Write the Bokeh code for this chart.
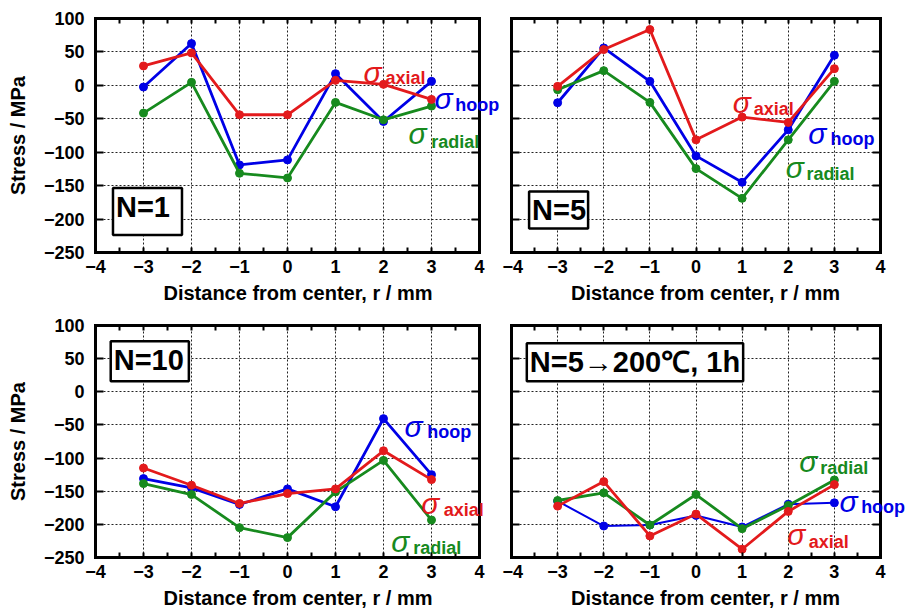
from bokeh.plotting import figure
from bokeh.models import Label, FixedTicker, LinearAxis, BoxAnnotation, Range1d, Grid
from bokeh.layouts import gridplot
from bokeh.embed import file_html
from bokeh.resources import INLINE

# ---------------- data ----------------
r_mm = [-3, -2, -1, 0, 1, 2, 3]

n1_axial = [29, 48.5, -44, -44, 7.5, 1.5, -21]
n1_hoop = [-2.5, 62.5, -119, -111.5, 17.5, -54, 6]
n1_radial = [-41.5, 4.5, -131.5, -138.5, -25.5, -51.5, -31]

n5_axial = [-1.5, 53.5, 83.5, -81.5, -47.5, -55.5, 25]
n5_hoop = [-26, 56, 6, -105.5, -145, -66.5, 45]
n5_radial = [-6.5, 22, -25.5, -124.5, -169, -81.5, 6]

n10_axial = [-115, -141, -168.5, -153.5, -146.5, -89, -132.5]
n10_hoop = [-131, -145, -170, -146.5, -173.5, -40.5, -125]
n10_radial = [-138.5, -155, -205, -220, -151, -103.5, -193.5]

ht_axial = [-172.5, -135.5, -217.5, -184.5, -237.5, -180.5, -140]
ht_hoop = [-165, -202.5, -201, -186.5, -204, -169.5, -167.5]
ht_radial = [-164, -152.5, -201, -155, -206.5, -171.5, -133]

panel_titles = ["N=1", "N=5", "N=10", "N=5\u2192200\u2103, 1h"]
x_ticks = [-4, -3, -2, -1, 0, 1, 2, 3, 4]
x_minor = [-3.5, -2.5, -1.5, -0.5, 0.5, 1.5, 2.5, 3.5]
y_ticks = [-250, -200, -150, -100, -50, 0, 50, 100]
x_title = "Distance from center, r / mm"
y_title = "Stress / MPa"

RED = "#e31a1c"
BLUE = "#0000e6"
GREEN = "#178a1e"

# annotation placement (sigma anchor, subscript anchor) in data units
sigma_labels = [
    [("axial", RED, (1.583, 19.2), (2.042, 11.7)),
     ("hoop", BLUE, (3.0625, -20.1), (3.4925, -30.1)),
     ("radial", GREEN, (2.521, -72.5), (2.993, -85.0))],
    [("axial", RED, (0.798, -25.2), (1.25, -35.1)),
     ("hoop", BLUE, (2.431, -72.5), (2.917, -80.0)),
     ("radial", GREEN, (1.944, -122.4), (2.396, -133.3))],
    [("hoop", BLUE, (2.4375, -51.7), (2.91, -60.3)),
     ("axial", RED, (2.785, -167.9), (3.257, -178.9)),
     ("radial", GREEN, (2.16, -225.5), (2.619, -235.4))],
    [("radial", GREEN, (2.236, -105.3), (2.694, -114.4)),
     ("hoop", BLUE, (3.111, -165.4), (3.58, -173.9)),
     ("axial", RED, (1.979, -215.5), (2.444, -226.4))],
]
box_pos = [(-2.917, -188.5, 12), (-2.979, -186.3, 2), (-2.869, 45.9, 5), (-1.323, 44.4, 3)]

FONT = "Liberation Sans"

# layout metrics (pixels) and frame extents beyond the [-4, 4] box (data units)
L_BL, L_FW, L_BR, L_LO, L_HI = 95, 405, 2, -4.0, 4.4375
R_BL, R_FW, R_BR, R_LO, R_HI = 2, 402, 1, -4.1518, 4.5637
T_BT, T_FH, T_BB = 18, 234, 56
B_BT, B_FH, B_BB = 17, 232, 57


def style_axis(ax, major_len, minor_len, show_labels, title=None,
               label_standoff=0, title_standoff=0):
    ax.axis_line_color = "black"
    ax.axis_line_width = 3
    ax.axis_line_cap = "square"
    ax.major_tick_in = major_len
    ax.major_tick_out = 0
    ax.minor_tick_in = minor_len
    ax.minor_tick_out = 0
    ax.major_tick_line_width = 2
    ax.minor_tick_line_width = 2
    ax.major_tick_line_color = "black"
    ax.minor_tick_line_color = "black"
    if show_labels:
        ax.major_label_text_font = FONT
        ax.major_label_text_font_style = "bold"
        ax.major_label_text_font_size = "18px"
        ax.major_label_text_color = "black"
        ax.major_label_standoff = label_standoff
    else:
        ax.major_label_text_font_size = "1px"
        ax.major_label_text_color = None
        ax.major_label_standoff = 0
    if title:
        ax.axis_label = title
        ax.axis_label_text_font = FONT
        ax.axis_label_text_font_style = "bold"
        ax.axis_label_text_font_size = "20px"
        ax.axis_label_text_color = "black"
        ax.axis_label_standoff = title_standoff


def make_panel(idx, axial, hoop, radial, left_col, bt, fh, bb):
    if left_col:
        bl, fw, br, lo, hi = L_BL, L_FW, L_BR, L_LO, L_HI
    else:
        bl, fw, br, lo, hi = R_BL, R_FW, R_BR, R_LO, R_HI
    p = figure(width=bl + fw + br, height=bt + fh + bb,
               x_range=Range1d(lo, hi), y_range=Range1d(-250, 100),
               output_backend="svg", toolbar_location=None,
               min_border_left=bl, min_border_right=br,
               min_border_top=bt, min_border_bottom=bb)
    p.background_fill_color = "white"
    p.border_fill_color = "white"
    p.outline_line_color = None

    # bottom axis (labels) limited to the [-4, 4] box
    bx = p.xaxis[0]
    bx.ticker = FixedTicker(ticks=x_ticks, minor_ticks=x_minor)
    bx.bounds = (-4, 4)
    style_axis(bx, 5, 5, True, x_title, 7, 6)

    # left axis
    ly = p.yaxis[0]
    ly.ticker = FixedTicker(ticks=y_ticks, minor_ticks=[])
    if left_col:
        style_axis(ly, 8, 0, True, y_title, 11, 12)
    else:
        ly.fixed_location = -4
        style_axis(ly, 8, 0, False)

    top = LinearAxis(ticker=FixedTicker(ticks=x_ticks, minor_ticks=x_minor), bounds=(-4, 4))
    style_axis(top, 5, 5, False)
    p.add_layout(top, "above")
    right = LinearAxis(ticker=FixedTicker(ticks=y_ticks, minor_ticks=[]), fixed_location=4)
    style_axis(right, 8, 0, False)
    p.add_layout(right, "right")

    p.xgrid.ticker = FixedTicker(ticks=[-3, -2, -1, 0, 1, 2, 3])
    p.ygrid.ticker = FixedTicker(ticks=[-200, -150, -100, -50, 0, 50])
    for g in (p.xgrid[0], p.ygrid[0]):
        g.grid_line_color = "#222222"
        g.grid_line_dash = "2 2"
        g.grid_line_width = 1
        g.grid_line_alpha = 1
    if "cross_bounds" in Grid.properties():
        p.ygrid[0].cross_bounds = (-4, 4)

    # blank the frame area outside the [-4, 4] box
    if hi > 4:
        p.add_layout(BoxAnnotation(left=4, right=hi, bottom=-250, top=100,
                                   fill_color="white", fill_alpha=1,
                                   line_color=None, level="underlay"))
    if lo < -4:
        p.add_layout(BoxAnnotation(left=lo, right=-4, bottom=-250, top=100,
                                   fill_color="white", fill_alpha=1,
                                   line_color=None, level="underlay"))

    hoop_w = 2 if idx == 3 else 2.8
    for vals, col, lw in ((hoop, BLUE, hoop_w), (radial, GREEN, 2.8), (axial, RED, 2.8)):
        p.line(r_mm, vals, line_color=col, line_width=lw)
        p.scatter(r_mm, vals, size=8, fill_color=col, line_color=col)

    for name, col, (sx, sy), (sbx, sby) in sigma_labels[idx]:
        p.add_layout(Label(x=sx, y=sy, text="\u03c3", text_color=col,
                           text_font=FONT, text_font_style="italic",
                           text_font_size="30px", text_align="left",
                           text_baseline="alphabetic"))
        p.add_layout(Label(x=sbx, y=sby, text=name, text_color=col,
                           text_font=FONT, text_font_style="bold",
                           text_font_size="18px", text_align="left",
                           text_baseline="alphabetic"))

    cx, cy, ph = box_pos[idx]
    p.add_layout(Label(x=cx, y=cy, text=panel_titles[idx], text_color="black",
                       text_font=FONT, text_font_style="bold", text_font_size="29px",
                       text_align="center", text_baseline="middle",
                       background_fill_color="white", background_fill_alpha=1,
                       border_line_color="black", border_line_width=2.5,
                       padding=(3, ph, 3, ph)))
    return p


p1 = make_panel(0, n1_axial, n1_hoop, n1_radial, True, T_BT, T_FH, T_BB)
p2 = make_panel(1, n5_axial, n5_hoop, n5_radial, False, T_BT, T_FH, T_BB)
p3 = make_panel(2, n10_axial, n10_hoop, n10_radial, True, B_BT, B_FH, B_BB)
p4 = make_panel(3, ht_axial, ht_hoop, ht_radial, False, B_BT, B_FH, B_BB)

grid = gridplot([[p1, p2], [p3, p4]], toolbar_location=None)

open("out.html", "w").write(file_html(grid, INLINE))
